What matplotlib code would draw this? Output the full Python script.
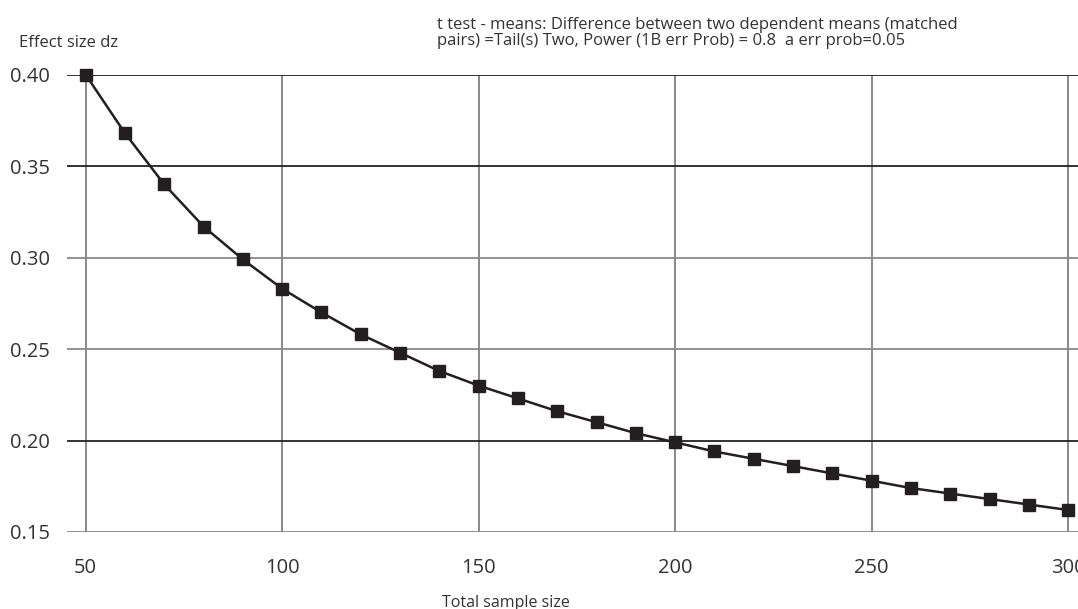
import numpy as np
import matplotlib
matplotlib.use('Agg')
import matplotlib.pyplot as plt

# Data
sample_size = [50, 60, 70, 80, 90, 100, 110, 120, 130, 140, 150, 160, 170,
               180, 190, 200, 210, 220, 230, 240, 250, 260, 270, 280, 290, 300]
effect_dz = [0.400, 0.368, 0.340, 0.317, 0.299, 0.283, 0.270, 0.258, 0.248,
             0.238, 0.230, 0.223, 0.216, 0.210, 0.204, 0.199, 0.194, 0.190,
             0.186, 0.182, 0.178, 0.174, 0.171, 0.168, 0.165, 0.162]
x_ticks = [50, 100, 150, 200, 250, 300]
y_ticks = [0.15, 0.20, 0.25, 0.30, 0.35, 0.40]
y_ticklabels = ['0.15', '0.20', '0.25', '0.30', '0.35', '0.40']

plt.rcParams['font.family'] = ['Open Sans', 'DejaVu Sans']
txtcolor = '#333333'

fw, fh = 10.78, 6.09
fig = plt.figure(figsize=(fw, fh), dpi=100)
ax = fig.add_axes([0.062, 0.1265, 0.938, 0.7508])

ax.plot(sample_size, effect_dz, color='#231f20', lw=1.8, marker='s',
        markersize=8.5, markerfacecolor='#231f20', markeredgecolor='#231f20',
        zorder=3, clip_on=False)

ax.set_xlim(45.2, 302.5)
ax.set_ylim(0.15, 0.40)
ax.set_xticks(x_ticks)
ax.set_yticks(y_ticks)
ax.set_yticklabels(y_ticklabels)
ax.tick_params(axis='both', length=0, labelsize=14.5, colors=txtcolor)
ax.tick_params(axis='x', pad=19)
ax.tick_params(axis='y', pad=12)

for sp in ax.spines.values():
    sp.set_visible(False)

# grid lines
for xv in x_ticks:
    ax.axvline(xv, color='#808080', lw=1.3, zorder=1)
for yv in y_ticks:
    c = '#888888' if yv in (0.15, 0.25, 0.30) else '#222222'
    ax.axhline(yv, color=c, lw=1.3, zorder=1)

fig.text(0.018, 1 - 43 / 609, 'Effect size dz', fontsize=12, color=txtcolor,
         ha='left', va='center')
fig.text(506 / 1078, 1 - 603 / 609, 'Total sample size', fontsize=11.5,
         color=txtcolor, ha='center', va='center')
fig.text(437 / 1078, 1 - 33 / 609,
         't test - means: Difference between two dependent means (matched\n'
         'pairs) =Tail(s) Two, Power (1B err Prob) = 0.8  a err prob=0.05',
         fontsize=12, color=txtcolor, ha='left', va='center', linespacing=1.05)

plt.savefig('out.png', dpi=100)
